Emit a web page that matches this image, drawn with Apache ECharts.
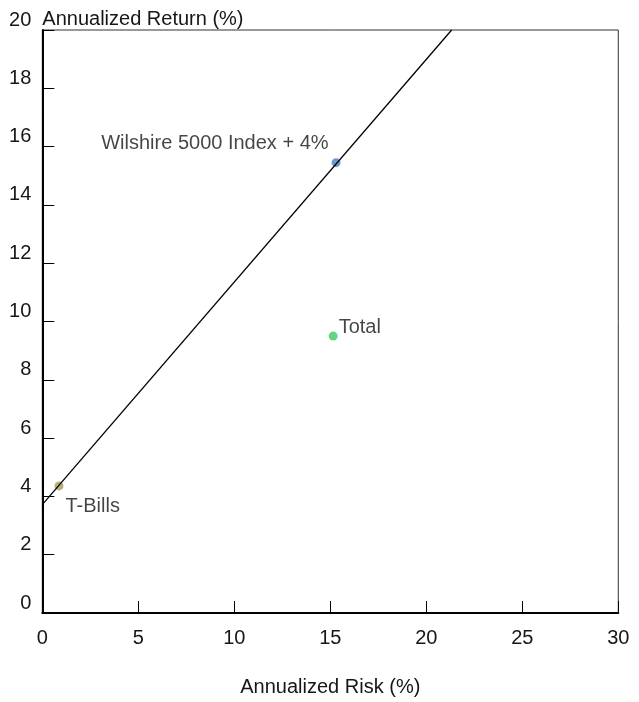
<!DOCTYPE html>
<html>
<head>
<meta charset="utf-8">
<script src="https://cdn.jsdelivr.net/npm/echarts@6/dist/echarts.min.js"></script>
<style>html,body{margin:0;padding:0;background:#fff;}#c{width:639px;height:702px;}</style>
</head>
<body>
<div id="c"></div>
<script>
var pointNames = ['Wilshire 5000 Index + 4%', 'Total', 'T-Bills'];
var pointRisk = [15.3, 15.15, 0.87];
var pointReturn = [15.45, 9.5, 4.36];
var pointColors = ['#4a7ec4', '#3ec95c', '#a89a5c'];
var lineRisk = [0, 21.32];
var lineReturn = [3.72, 20];

var FONT = '"Liberation Sans", Arial, sans-serif';
var TXT = '#161616';
var labelCfg = [
  {position: 'left', distance: 3, offset: [0, -19]},
  {position: 'right', distance: 1, offset: [0, -9]},
  {position: 'right', distance: 2, offset: [0, 21]}
];
var pts = pointNames.map(function (n, i) {
  return {
    name: n,
    value: [pointRisk[i], pointReturn[i]],
    itemStyle: {color: pointColors[i]},
    label: Object.assign({show: true, formatter: n, color: TXT, fontSize: 20, fontFamily: FONT}, labelCfg[i])
  };
});
var lineData = lineRisk.map(function (x, i) { return [x, lineReturn[i]]; });

var chart = echarts.init(document.getElementById('c'), null, {renderer: 'canvas'});
chart.setOption({
  animation: false,
  grid: {left: 42.3, right: 20.7, top: 30, bottom: 87.7, show: true, borderColor: '#333', borderWidth: 1, backgroundColor: 'transparent'},
  xAxis: {
    type: 'value', min: 0, max: 30, interval: 5,
    name: 'Annualized Risk (%)', nameLocation: 'middle', nameGap: 64,
    nameTextStyle: {color: TXT, fontSize: 20, fontFamily: FONT},
    axisLine: {show: true, lineStyle: {color: '#000', width: 2}},
    axisTick: {show: true, inside: true, length: 12, lineStyle: {color: '#000', width: 1}},
    axisLabel: {color: TXT, fontSize: 20, fontFamily: FONT, margin: 15},
    splitLine: {show: false}
  },
  yAxis: {
    type: 'value', min: 0, max: 20, interval: 2,
    name: 'Annualized Return (%)', nameLocation: 'end', nameGap: 1,
    nameTextStyle: {color: TXT, fontSize: 20, fontFamily: FONT, align: 'left', verticalAlign: 'bottom'},
    axisLine: {show: true, lineStyle: {color: '#000', width: 2}},
    axisTick: {show: true, inside: true, length: 12, lineStyle: {color: '#000', width: 1}},
    axisLabel: {color: TXT, fontSize: 20, fontFamily: FONT, margin: 11, verticalAlign: 'bottom'},
    splitLine: {show: false}
  },
  series: [
    {type: 'line', data: lineData, symbol: 'none', lineStyle: {color: '#000', width: 1.3}, silent: true},
    {type: 'scatter', data: pts, symbolSize: 9}
  ]
});
</script>
</body>
</html>
